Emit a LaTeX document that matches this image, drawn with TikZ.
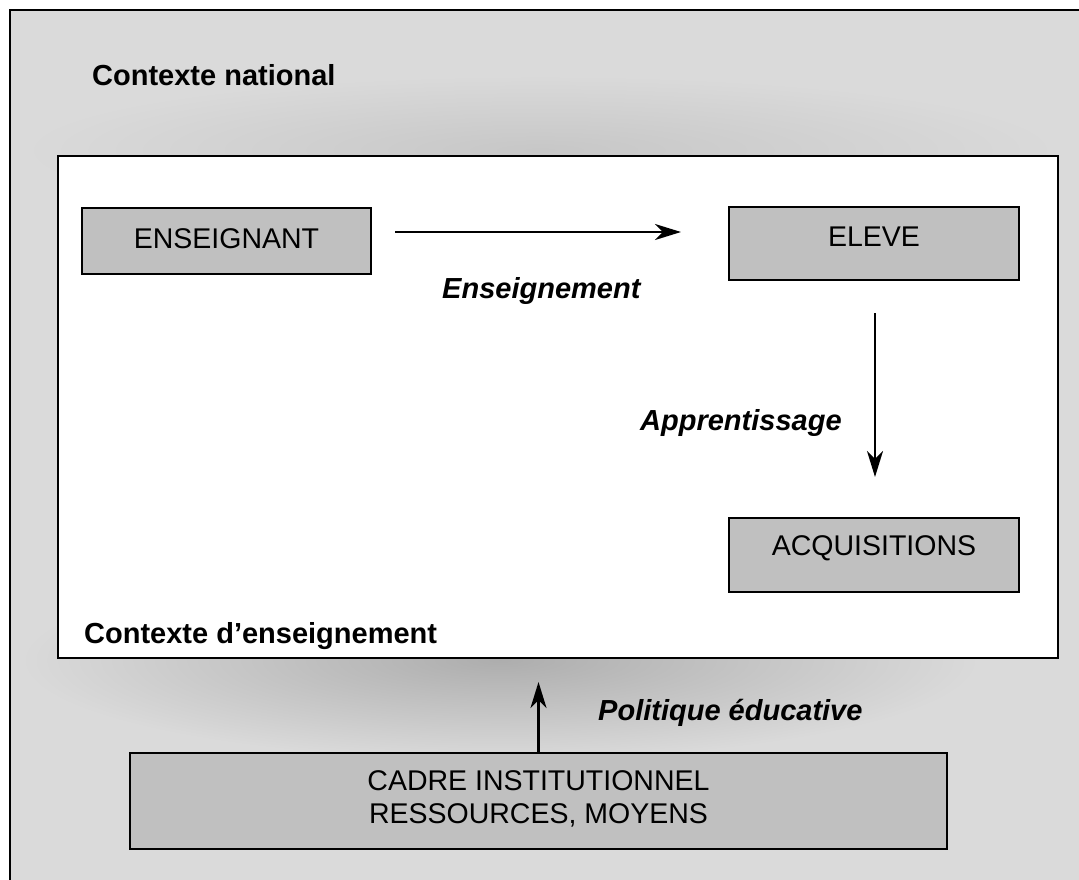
\documentclass[tikz,border=0pt]{standalone}
\usepackage{fontspec}
\setmainfont{Liberation Sans}
\usetikzlibrary{arrows.meta,calc}
\definecolor{bg}{HTML}{DADADA}
\definecolor{boxgray}{HTML}{C0C0C0}
\begin{document}
\begin{tikzpicture}[x=1pt,y=-1pt,
  box/.style={draw=black, line width=2pt, fill=boxgray, inner sep=0pt,
    font=\fontsize{28.5}{33}\selectfont, align=center, text height=20.4pt},
  lbl/.style={font=\fontsize{29}{33}\selectfont\bfseries\itshape, inner sep=0pt, anchor=base west},
  title/.style={font=\fontsize{29}{33}\selectfont\bfseries, inner sep=0pt, anchor=base west},
  arr/.style={line width=2.5pt, -{Stealth[length=26pt,width=16pt,inset=8pt]}}]
\useasboundingbox (0,0) rectangle (1079,879);
% national context background
\fill[bg] (10,10) rectangle (1095,895);
\begin{scope}
\clip (10,10) rectangle (1095,895);
\shade[inner color=black!22, outer color=bg] (540,150) ellipse [x radius=520, y radius=75];
\shade[inner color=black!32, outer color=bg] (500,660) ellipse [x radius=480, y radius=100];
\end{scope}
\draw[line width=2.5pt] (1095,10) -- (10,10) -- (10,895);
\node[title] (nat) at (92,85) {Contexte national};
% teaching context
\node[draw=black, line width=2pt, fill=white, minimum width=1000, minimum height=502, inner sep=0pt] (ctx) at (558,407) {};
\node[title] (ens-ctx) at (84,643) {Contexte d’enseignement};
% boxes
\node[box, minimum width=289, minimum height=66, text depth=6pt] (ens) at (226.5,241) {ENSEIGNANT};
\node[box, minimum width=290, minimum height=73, text depth=15pt] (elv) at (874,243.5) {ELEVE};
\node[box, minimum width=290, minimum height=74, text depth=20pt] (acq) at (874,555) {ACQUISITIONS};
\node[box, minimum width=817, minimum height=96, text height=45.4pt, text depth=0pt] (cad) at (538.5,801) {CADRE INSTITUTIONNEL\\RESSOURCES, MOYENS};
% arrows
\draw[arr] ($(ens.east)+(23,-9)$) -- ($(elv.west)+(-47,-11.5)$);
\draw[arr] ($(elv.south)+(1,32)$) -- ($(acq.north)+(1,-40)$);
\coordinate (uptip) at (538.5,682);
\draw[arr] (cad.north) -- (uptip);
% labels
\node[lbl] (l1) at (442,298) {Enseignement};
\node[lbl] (l2) at (640,430) {Apprentissage};
\node[lbl] (l3) at (598,720) {Politique éducative};
\end{tikzpicture}
\end{document}
